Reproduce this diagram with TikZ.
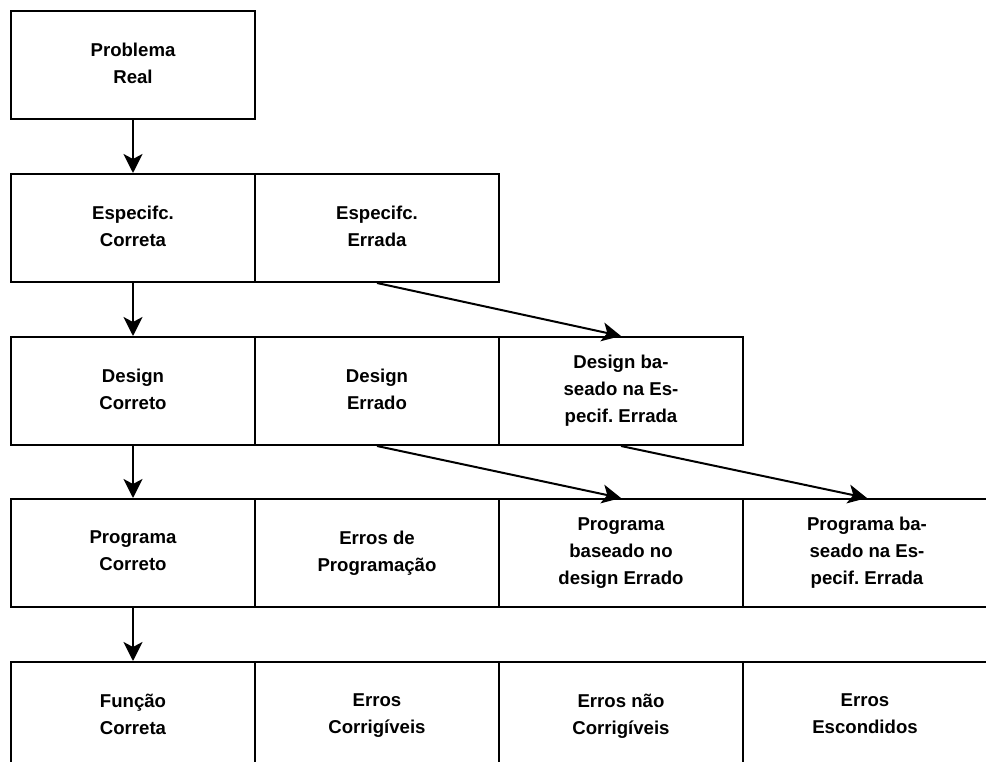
\documentclass[tikz,border=0pt]{standalone}
\usepackage{fontspec}
\setmainfont{Liberation Sans}
\usetikzlibrary{arrows.meta}
\frenchspacing
\begin{document}
\begin{tikzpicture}[x=1pt,y=-1pt,
  cell/.style={draw=black, line width=2pt, minimum width=244pt, minimum height=108pt,
    inner sep=0pt, align=center, font=\bfseries\fontsize{18.6}{27}\selectfont,
    execute at begin node={\rule{0pt}{27.5pt}},
    execute at end node={\rule[-4pt]{0pt}{4pt}}},
  flow/.style={line width=2pt, -{Stealth[length=19pt,width=19pt,inset=5pt]}}]
\useasboundingbox (0,0) rectangle (986,762);
\clip (0,0) rectangle (986,762);

% row 1
\node[cell] (real) at (133,65) {Problema\\Real};

% row 2: specification
\node[cell] (specok)  at (133,228) {Especifc.\\Correta};
\node[cell] (specbad) at (377,228) {Especifc.\\Errada};

% row 3: design
\node[cell] (desok)   at (133,391) {Design\\Correto};
\node[cell] (desbad)  at (377,391) {Design\\Errado};
\node[cell] (desspec) at (621,391) {Design ba-\\seado na Es-\\pecif. Errada};

% row 4: program
\node[cell] (progok)   at (133,553) {Programa\\Correto};
\node[cell] (progerr)  at (377,553) {Erros de\\Programação};
\node[cell] (progdes)  at (621,553) {Programa\\baseado no\\design Errado};
\node[cell, minimum width=248pt] (progspec) at (867,553) {Programa ba-\\seado na Es-\\pecif. Errada};

% row 5: outcome
\node[cell] (funcok)  at (133,716) {Função\\Correta};
\node[cell] (fixable) at (377,716) {Erros\\Corrigíveis};
\node[cell] (unfix)   at (621,716) {Erros não\\Corrigíveis};
\node[cell] (hidden)  at (865,716) {Erros\\Escondidos};

% connectors
\draw[flow] (real.south)   -- (specok.north);
\draw[flow] (specok.south) -- (desok.north);
\draw[flow] (desok.south)  -- (progok.north);
\draw[flow] (progok.south) -- (funcok.north);
\draw[flow] (specbad.south) -- (desspec.north);
\draw[flow] (desbad.south)  -- (progdes.north);
\draw[flow] (desspec.south) -- (progspec.north);
\end{tikzpicture}
\end{document}
